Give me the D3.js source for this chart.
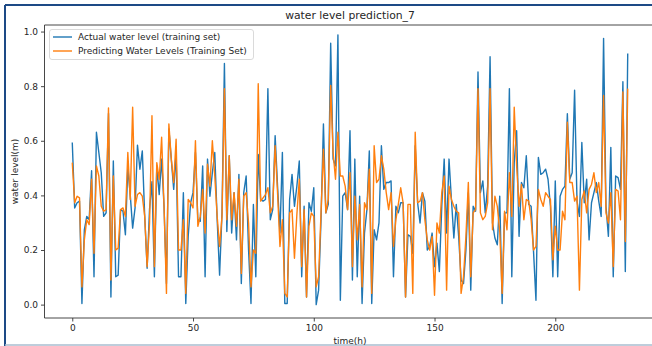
<!DOCTYPE html>
<html>
<head>
<meta charset="utf-8">
<script src="https://cdnjs.cloudflare.com/ajax/libs/d3/7.8.5/d3.min.js"></script>
<style>
body{margin:0;background:#fff;}
text{font-family:"DejaVu Sans",sans-serif;fill:#262626;}
</style>
</head>
<body>
<svg id="canvas" width="652" height="346"></svg>
<script>

// actual water level (training set), one value per hour 0..230
var actual = [
0.594,0.354,0.373,0.379,0.004,0.274,0.323,0.311,0.490,0.102,
0.631,0.557,0.483,0.323,0.336,0.700,0.028,0.526,0.102,0.108,
0.348,0.342,0.256,0.502,0.403,0.280,0.354,0.584,0.496,0.563,
0.323,0.133,0.350,0.450,0.102,0.508,0.403,0.533,0.360,0.077,
0.643,0.533,0.422,0.557,0.102,0.102,0.410,0.004,0.250,0.373,
0.410,0.557,0.311,0.305,0.508,0.102,0.533,0.397,0.483,0.557,
0.311,0.108,0.336,0.883,0.268,0.545,0.262,0.410,0.237,0.477,
0.077,0.410,0.471,0.200,0.004,0.367,0.102,0.550,0.385,0.379,
0.385,0.791,0.311,0.348,0.619,0.434,0.262,0.557,0.004,0.004,
0.385,0.477,0.360,0.434,0.526,0.102,0.360,0.028,0.373,0.342,
0.428,0.000,0.053,0.311,0.662,0.336,0.367,0.957,0.533,0.508,
0.988,0.016,0.397,0.410,0.348,0.637,0.090,0.533,0.102,0.397,
0.004,0.262,0.348,0.563,0.004,0.274,0.237,0.299,0.582,0.422,
0.447,0.447,0.453,0.102,0.360,0.336,0.373,0.373,0.028,0.256,
0.250,0.188,0.582,0.373,0.299,0.410,0.379,0.200,0.213,0.262,
0.139,0.225,0.121,0.360,0.533,0.262,0.533,0.385,0.244,0.367,
0.250,0.090,0.077,0.200,0.410,0.053,0.360,0.342,0.852,0.410,
0.453,0.336,0.434,0.908,0.299,0.244,0.219,0.397,0.004,0.336,
0.336,0.791,0.102,0.520,0.637,0.250,0.447,0.428,0.545,0.367,
0.360,0.194,0.016,0.539,0.477,0.483,0.496,0.459,0.360,0.102,
0.453,0.102,0.397,0.422,0.434,0.699,0.459,0.483,0.785,0.379,
0.323,0.594,0.373,0.459,0.237,0.373,0.410,0.447,0.379,0.323,
0.975,0.360,0.250,0.576,0.102,0.471,0.465,0.422,0.816,0.121,
0.920
];

// predicted water level (training set)
var predicted = [
0.520,0.373,0.397,0.391,0.065,0.237,0.311,0.293,0.459,0.188,
0.508,0.471,0.360,0.342,0.348,0.720,0.090,0.471,0.200,0.207,
0.348,0.354,0.323,0.557,0.385,0.723,0.360,0.403,0.410,0.397,
0.323,0.139,0.300,0.692,0.139,0.520,0.459,0.613,0.360,0.041,
0.662,0.533,0.447,0.606,0.200,0.200,0.311,0.041,0.385,0.373,
0.354,0.600,0.287,0.323,0.422,0.262,0.514,0.434,0.600,0.471,
0.323,0.213,0.323,0.791,0.311,0.545,0.311,0.410,0.287,0.459,
0.114,0.397,0.410,0.299,0.065,0.200,0.188,0.809,0.379,0.391,
0.403,0.428,0.336,0.360,0.582,0.410,0.213,0.311,0.041,0.028,
0.336,0.348,0.170,0.330,0.459,0.139,0.348,0.028,0.287,0.336,
0.323,0.065,0.102,0.336,0.569,0.336,0.385,0.803,0.557,0.459,
0.631,0.471,0.471,0.434,0.348,0.483,0.139,0.397,0.237,0.367,
0.065,0.373,0.348,0.496,0.041,0.582,0.447,0.459,0.545,0.496,
0.410,0.348,0.410,0.213,0.311,0.367,0.428,0.373,0.028,0.367,
0.367,0.041,0.631,0.373,0.379,0.410,0.311,0.237,0.200,0.250,
0.034,0.299,0.262,0.410,0.471,0.053,0.434,0.385,0.360,0.342,
0.336,0.041,0.102,0.250,0.447,0.102,0.336,0.348,0.791,0.336,
0.311,0.323,0.373,0.791,0.274,0.397,0.360,0.268,0.041,0.342,
0.274,0.483,0.323,0.723,0.508,0.360,0.440,0.311,0.385,0.379,
0.311,0.200,0.213,0.422,0.385,0.360,0.410,0.397,0.385,0.164,
0.287,0.200,0.200,0.342,0.311,0.668,0.447,0.447,0.379,0.397,
0.053,0.385,0.416,0.336,0.422,0.440,0.483,0.410,0.447,0.360,
0.766,0.336,0.299,0.410,0.139,0.422,0.416,0.311,0.779,0.231,
0.791
];

var x_ticks = [0, 50, 100, 150, 200];
var y_ticks = [0.0, 0.2, 0.4, 0.6, 0.8, 1.0];
var series_names = ["Actual water level (training set)", "Predicting Water Levels (Training Set)"];
var colors = ["#1f77b4", "#ff7f0e"];

var canvas = d3.select("#canvas")

    // window frame around the screenshot
    canvas.append("rect")
        .attr("x", 0).attr("y", 0)
        .attr("width", 652).attr("height", 346)
        .style("fill", "#fff")
    canvas.append("line")
        .attr("x1", 5).attr("x2", 652).attr("y1", 5).attr("y2", 5)
        .style("stroke", "#1d4a86").style("stroke-width", 2)
    canvas.append("line")
        .attr("x1", 5).attr("x2", 5).attr("y1", 5).attr("y2", 346)
        .style("stroke", "#1d4a86").style("stroke-width", 2)
    canvas.append("line")
        .attr("x1", 5).attr("x2", 652).attr("y1", 345).attr("y2", 345)
        .style("stroke", "#a9bccf").style("stroke-width", 1.5)

    // axes box, right side runs past the picture
    var ax_left = 44.5
    var ax_right = 655.5
    var ax_top = 25
    var ax_bottom = 318

    var n = actual.length
    var x_pad = (n - 1) * 0.05
    var x = d3.scaleLinear()
        .domain([-x_pad, n - 1 + x_pad])
        .range([ax_left, ax_right])

    var y = d3.scaleLinear()
        .domain([-0.049, 1.024])
        .range([ax_bottom, ax_top])

    var plot = canvas.append("g")

    plot.append("defs").append("clipPath").attr("id", "clip")
        .append("rect")
        .attr("x", ax_left).attr("y", ax_top)
        .attr("width", ax_right - ax_left).attr("height", ax_bottom - ax_top)

    var line = d3.line()
        .x(function(d, i){ return x(i) })
        .y(function(d){ return y(d) })

    var all_series = [actual, predicted]
    for (var i = 0; i < all_series.length; i++){
        plot.append("path")
            .datum(all_series[i])
            .attr("d", line)
            .attr("clip-path", "url(#clip)")
            .style("fill", "none")
            .style("stroke", colors[i])
            .style("stroke-width", 1.4)
            .style("stroke-linejoin", "round")
    }

    // spines
    canvas.append("path")
        .attr("d", "M" + ax_right + " " + ax_top + " H" + ax_left + " V" + ax_bottom + " H" + ax_right)
        .style("fill", "none")
        .style("stroke", "#333")
        .style("stroke-width", 0.9)

    // x axis
    var x_axis = canvas.append("g")
        .attr("transform", "translate(0," + ax_bottom + ")")
        .call(d3.axisBottom(x).tickValues(x_ticks).tickSize(3.5).tickPadding(3).tickFormat(d3.format("d")))
    x_axis.select(".domain").remove()

    // y axis
    var y_axis = canvas.append("g")
        .attr("transform", "translate(" + ax_left + ",0)")
        .call(d3.axisLeft(y).tickValues(y_ticks).tickSize(3.5).tickPadding(3).tickFormat(d3.format(".1f")))
    y_axis.select(".domain").remove()

    canvas.selectAll(".tick line").style("stroke", "#333").style("stroke-width", 0.9)
    canvas.selectAll(".tick text")
        .style("font-family", "DejaVu Sans")
        .style("font-size", "9px")
        .style("fill", "#262626")

    // title and labels
    canvas.append("text")
        .attr("x", (ax_left + ax_right) / 2)
        .attr("y", 19)
        .attr("text-anchor", "middle")
        .style("font-size", "10.8px")
        .text("water level prediction_7")

    canvas.append("text")
        .attr("x", (ax_left + ax_right) / 2)
        .attr("y", 344)
        .attr("text-anchor", "middle")
        .style("font-size", "9px")
        .text("time(h)")

    canvas.append("text")
        .attr("transform", "translate(18," + (ax_top + ax_bottom) / 2 + ") rotate(-90)")
        .attr("text-anchor", "middle")
        .style("font-size", "9px")
        .text("water level(m)")

    // legend
    var legend = canvas.append("g")
    legend.append("rect")
        .attr("x", 49.5).attr("y", 29.5)
        .attr("width", 204).attr("height", 30)
        .attr("rx", 2.5)
        .style("fill", "#fff").style("fill-opacity", 0.8)
        .style("stroke", "#d6d6d6").style("stroke-width", 0.9)

    for (var k = 0; k < series_names.length; k++){
        var ly = 37 + k * 14
        legend.append("line")
            .attr("x1", 53).attr("x2", 72)
            .attr("y1", ly).attr("y2", ly)
            .style("stroke", colors[k]).style("stroke-width", 1.4)
        legend.append("text")
            .attr("x", 78).attr("y", ly + 3.2)
            .style("font-size", "9px")
            .text(series_names[k])
    }

</script>
</body>
</html>
